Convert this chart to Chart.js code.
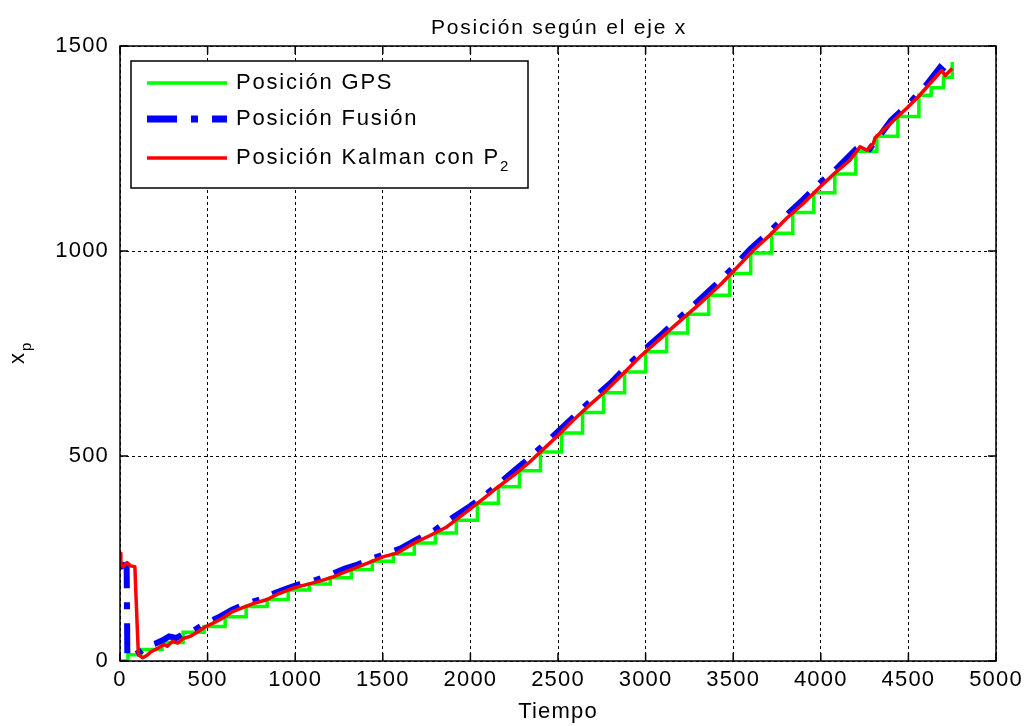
<!DOCTYPE html>
<html>
<head>
<meta charset="utf-8">
<title>Posición según el eje x</title>
<script src="https://cdn.jsdelivr.net/npm/chart.js@4.4.1/dist/chart.umd.min.js"></script>
<style>
  html, body { margin: 0; padding: 0; background: #fff; }
  #wrap { width: 1027px; height: 726px; }
</style>
</head>
<body>
<div id="wrap"><canvas id="posChart" width="1027" height="726"></canvas></div>
<script>
// Position along x: GPS (stairs), fused estimate and Kalman filter with P2

const xTicks = [0, 500, 1000, 1500, 2000, 2500, 3000, 3500, 4000, 4500, 5000];
const yTicks = [0, 500, 1000, 1500];

// GPS fixes (held until the next fix)
const gpsTime = [0, 45, 120, 240, 360, 480, 600, 720, 840, 960, 1080, 1200, 1320, 1440,
  1560, 1680, 1800, 1920, 2040, 2160, 2280, 2400, 2520, 2640, 2760, 2880, 3000, 3120,
  3240, 3360, 3480, 3600, 3720, 3840, 3960, 4080, 4200, 4320, 4440, 4560, 4630, 4700, 4750];
const gpsPos = [0, 15, 28, 45, 70, 84, 108, 133, 150, 173, 188, 203, 223, 243,
  261, 288, 312, 343, 385, 425, 464, 510, 556, 606, 654, 705, 754, 800,
  846, 892, 945, 995, 1043, 1094, 1142, 1188, 1243, 1280, 1328, 1380, 1398, 1424, 1461];

// fused position
const fusionTime = [0, 20, 38, 42, 70, 120, 155, 200, 240, 280, 320, 370, 420, 480, 560,
  640, 720, 800, 880, 960, 1040, 1120, 1200, 1280, 1360, 1440, 1520, 1600, 1700, 1800,
  1900, 2000, 2100, 2200, 2300, 2400, 2500, 2600, 2700, 2800, 2900, 3000, 3100, 3200,
  3300, 3400, 3500, 3600, 3700, 3800, 3900, 4000, 4100, 4200, 4250, 4280, 4320, 4400,
  4500, 4600, 4680, 4700, 4720, 4740];
const fusionPos = [228, 234, 232, 8, 12, 24, 36, 42, 50, 60, 56, 68, 74, 90, 106,
  125, 140, 150, 165, 178, 190, 198, 210, 225, 236, 250, 262, 274, 298, 320,
  350, 378, 410, 446, 482, 520, 560, 600, 640, 678, 722, 762, 800, 840,
  878, 918, 960, 1006, 1044, 1086, 1126, 1168, 1205, 1248, 1262, 1250, 1272, 1318,
  1358, 1404, 1448, 1440, 1432, 1440];

// Kalman estimate with P2
const kalmanTime = [0, 5, 20, 40, 60, 85, 92, 105, 130, 155, 175, 220, 250, 270, 300, 330,
  360, 400, 440, 485, 520, 580, 640, 700, 760, 840, 900, 990, 1080, 1150, 1220, 1300,
  1410, 1500, 1580, 1680, 1770, 1865, 1990, 2080, 2150, 2250, 2340, 2400, 2500, 2588,
  2680, 2778, 2870, 2968, 3060, 3158, 3300, 3425, 3500, 3615, 3700, 3805, 3900, 3995,
  4080, 4167, 4224, 4263, 4300, 4310, 4400, 4492, 4560, 4641, 4690, 4710, 4750];
const kalmanPos = [263, 235, 230, 240, 232, 230, 150, 15, 8, 14, 22, 32, 40, 36, 48, 44,
  55, 60, 70, 83, 90, 103, 120, 130, 140, 150, 163, 178, 188, 196, 206, 220,
  238, 254, 263, 288, 306, 327, 368, 398, 422, 454, 486, 510, 550, 588,
  624, 661, 700, 742, 777, 815, 868, 917, 950, 1002, 1035, 1080, 1116, 1156,
  1190, 1222, 1254, 1246, 1262, 1276, 1312, 1349, 1378, 1417, 1440, 1428, 1445];

const FONT = "'Liberation Sans', Arial, Helvetica, sans-serif";
const FUSION_DASH = [30, 14, 7, 14];

const toPoints = (ts, vs) => ts.map((t, i) => ({ x: t, y: vs[i] }));

const legendItems = [
  { text: "Posición GPS", color: "#00ff00", width: 3.5, dash: [] },
  { text: "Posición Fusión", color: "#0000ff", width: 7, dash: FUSION_DASH },
  { text: "Posición Kalman con P", sub: "2", color: "#ff0000", width: 3.5, dash: [] },
];

// axes box, inward ticks, title, y label and the boxed legend
const frameDecor = {
  id: "frameDecor",
  beforeDraw(chart) {
    chart.ctx.letterSpacing = "1.2px";
  },
  afterDraw(chart) {
    const { ctx, chartArea: a, scales } = chart;
    ctx.save();
    ctx.strokeStyle = "#000";
    ctx.setLineDash([]);
    ctx.lineWidth = 1.5;

    ctx.beginPath();
    xTicks.forEach((v) => {
      const px = scales.x.getPixelForValue(v);
      ctx.moveTo(px, a.bottom); ctx.lineTo(px, a.bottom - 8);
      ctx.moveTo(px, a.top); ctx.lineTo(px, a.top + 8);
    });
    yTicks.forEach((v) => {
      const py = scales.y.getPixelForValue(v);
      ctx.moveTo(a.left, py); ctx.lineTo(a.left + 8, py);
      ctx.moveTo(a.right, py); ctx.lineTo(a.right - 8, py);
    });
    ctx.stroke();
    ctx.strokeRect(a.left, a.top, a.right - a.left, a.bottom - a.top);

    // title
    ctx.letterSpacing = "1.8px";
    ctx.fillStyle = "#000";
    ctx.font = "21px " + FONT;
    ctx.textAlign = "center";
    ctx.textBaseline = "middle";
    ctx.fillText("Posición según el eje x", (a.left + a.right) / 2 + 1, 28);

    // y label x_p
    ctx.save();
    ctx.translate(18, 356);
    ctx.rotate(-Math.PI / 2);
    ctx.textAlign = "left";
    ctx.font = "22px " + FONT;
    ctx.fillText("x", -8, 0);
    ctx.font = "15px " + FONT;
    ctx.fillText("p", 5, 9);
    ctx.restore();

    // legend
    const lx = a.left + 11, ly = a.top + 15, lw = 397, lh = 127;
    ctx.fillStyle = "#fff";
    ctx.fillRect(lx, ly, lw, lh);
    ctx.lineWidth = 1.5;
    ctx.strokeRect(lx, ly, lw, lh);
    const rows = [83, 119, 158];
    legendItems.forEach((it, i) => {
      const y = rows[i];
      ctx.save();
      ctx.strokeStyle = it.color;
      ctx.lineWidth = it.width;
      ctx.setLineDash(it.dash);
      ctx.beginPath();
      ctx.moveTo(lx + 16, y);
      ctx.lineTo(lx + 96, y);
      ctx.stroke();
      ctx.restore();
      ctx.fillStyle = "#000";
      ctx.textAlign = "left";
      ctx.textBaseline = "middle";
      ctx.letterSpacing = "1.8px";
      ctx.font = "22px " + FONT;
      ctx.fillText(it.text, lx + 105, y);
      if (it.sub) {
        const w = ctx.measureText(it.text).width;
        ctx.font = "15px " + FONT;
        ctx.fillText(it.sub, lx + 105 + w, y + 9);
      }
    });
    ctx.restore();
  },
};

const ctx = document.getElementById("posChart").getContext("2d");

new Chart(ctx, {
  type: "line",
  data: {
    datasets: [
      {
        label: "Posición GPS",
        data: toPoints(gpsTime, gpsPos),
        borderColor: "#00ff00",
        borderWidth: 3.5,
        stepped: "before",
        pointRadius: 0,
        order: 3,
      },
      {
        label: "Posición Fusión",
        data: toPoints(fusionTime, fusionPos),
        borderColor: "#0000ff",
        borderWidth: 6,
        borderDash: FUSION_DASH,
        pointRadius: 0,
        order: 2,
      },
      {
        label: "Posición Kalman con P2",
        data: toPoints(kalmanTime, kalmanPos),
        borderColor: "#ff0000",
        borderWidth: 3.5,
        borderJoinStyle: "round",
        pointRadius: 0,
        order: 1,
      },
    ],
  },
  options: {
    responsive: false,
    animation: false,
    devicePixelRatio: 1,
    layout: { padding: { top: 46, right: 31, left: 0, bottom: 0 } },
    plugins: {
      legend: { display: false },
      tooltip: { enabled: false },
      title: { display: false },
    },
    scales: {
      x: {
        type: "linear",
        min: 0,
        max: 5000,
        afterBuildTicks: (scale) => { scale.ticks = xTicks.map((v) => ({ value: v })); },
        afterFit: (scale) => { scale.height = 65; },
        ticks: { color: "#000", font: { family: FONT, size: 22 }, padding: 6, maxRotation: 0, callback: (v) => String(v) },
        grid: { color: "#000", lineWidth: 1, drawTicks: false },
        border: { display: false, dash: [3, 3] },
        title: { display: true, text: "Tiempo", color: "#000", font: { family: FONT, size: 22 }, padding: { top: 0, bottom: 1 } },
      },
      y: {
        type: "linear",
        min: 0,
        max: 1500,
        afterBuildTicks: (scale) => { scale.ticks = yTicks.map((v) => ({ value: v })); },
        afterFit: (scale) => { scale.width = 120; },
        ticks: { color: "#000", font: { family: FONT, size: 22 }, padding: 11, callback: (v) => String(v) },
        grid: { color: "#000", lineWidth: 1, drawTicks: false },
        border: { display: false, dash: [3, 3] },
      },
    },
  },
  plugins: [frameDecor],
});
</script>
</body>
</html>
